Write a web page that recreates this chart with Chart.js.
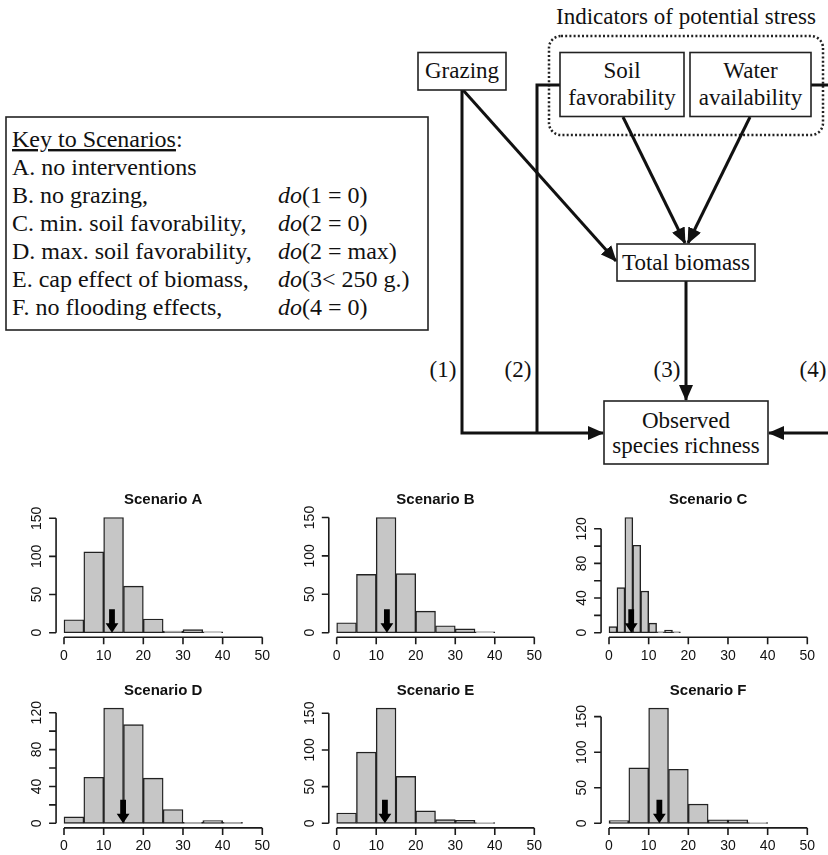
<!DOCTYPE html>
<html>
<head>
<meta charset="utf-8">
<script src="https://cdn.jsdelivr.net/npm/chart.js"></script>
<style>
  body { margin: 0; background: #fff; }
  #page { position: relative; width: 828px; height: 855px; background: #fff; overflow: hidden; }
  #page svg, #page canvas { position: absolute; }
</style>
</head>
<body>
<div id="page">
<svg width="828" height="480" style="left:0;top:0" font-family="'Liberation Serif', 'Times New Roman', serif" font-size="23" fill="#111">
  <defs>
    <marker id="ah" markerUnits="userSpaceOnUse" markerWidth="16" markerHeight="14" refX="15" refY="7" orient="auto">
      <path d="M0,0 L16,7 L0,14 z" fill="#111"/>
    </marker>
  </defs>

  <!-- key to scenarios -->
  <rect x="6" y="117" width="422" height="213" fill="none" stroke="#222" stroke-width="1.6"/>
  <g font-size="24">
    <text x="12" y="147"><tspan text-decoration="underline">Key to Scenarios</tspan>:</text>
    <text x="12" y="175">A. no interventions</text>
    <text x="12" y="203">B. no grazing,</text>
    <text x="12" y="231">C. min. soil favorability,</text>
    <text x="12" y="259">D. max. soil favorability,</text>
    <text x="12" y="287">E. cap effect of biomass,</text>
    <text x="12" y="315">F. no flooding effects,</text>
    <text x="278" y="203"><tspan font-style="italic">do</tspan>(1 = 0)</text>
    <text x="278" y="231"><tspan font-style="italic">do</tspan>(2 = 0)</text>
    <text x="278" y="259"><tspan font-style="italic">do</tspan>(2 = max)</text>
    <text x="278" y="287"><tspan font-style="italic">do</tspan>(3&lt; 250 g.)</text>
    <text x="278" y="315"><tspan font-style="italic">do</tspan>(4 = 0)</text>
  </g>

  <!-- path diagram -->
  <text x="686" y="24" text-anchor="middle">Indicators of potential stress</text>
  <rect x="549" y="36" width="274" height="99" rx="12" fill="none" stroke="#222" stroke-width="2.5" stroke-dasharray="2 2.2"/>

  <g fill="none" stroke="#111" stroke-width="3">
    <path d="M462,90 V433 H603" marker-end="url(#ah)"/>
    <path d="M560,85 H537 V433"/>
    <line x1="463" y1="90" x2="616" y2="261" marker-end="url(#ah)"/>
    <line x1="623" y1="117" x2="685" y2="243" marker-end="url(#ah)"/>
    <line x1="750" y1="117" x2="688" y2="243" marker-end="url(#ah)"/>
    <line x1="686" y1="281" x2="686" y2="400" marker-end="url(#ah)"/>
    <path d="M811,85 H830"/>
    <path d="M830,433 H769" marker-end="url(#ah)"/>
  </g>

  <g fill="#fff" stroke="#222" stroke-width="1.6">
    <rect x="418" y="52.5" width="88" height="37.5"/>
    <rect x="560" y="52.5" width="124" height="64"/>
    <rect x="690" y="52.5" width="121" height="64"/>
    <rect x="617" y="244" width="138" height="37"/>
    <rect x="604" y="401" width="164" height="63"/>
  </g>

  <g text-anchor="middle">
    <text x="462" y="78">Grazing</text>
    <text x="622" y="78">Soil</text>
    <text x="622" y="105">favorability</text>
    <text x="750.5" y="78">Water</text>
    <text x="750.5" y="105">availability</text>
    <text x="686" y="270">Total biomass</text>
    <text x="686" y="428">Observed</text>
    <text x="686" y="453">species richness</text>
    <text x="443" y="377">(1)</text>
    <text x="518" y="377">(2)</text>
    <text x="667" y="377">(3)</text>
    <text x="813" y="377">(4)</text>
  </g>
</svg>

<canvas id="hA" width="273" height="190" style="left:0px;top:486px"></canvas>
<canvas id="hB" width="273" height="190" style="left:273px;top:486px"></canvas>
<canvas id="hC" width="282" height="190" style="left:546px;top:486px"></canvas>
<canvas id="hD" width="273" height="179" style="left:0px;top:676px"></canvas>
<canvas id="hE" width="273" height="179" style="left:273px;top:676px"></canvas>
<canvas id="hF" width="282" height="179" style="left:546px;top:676px"></canvas>
</div>

<script>
// Histogram data (species richness under each scenario)
const scenarioTitles = ['Scenario A', 'Scenario B', 'Scenario C', 'Scenario D', 'Scenario E', 'Scenario F'];
const binStarts5 = [0, 5, 10, 15, 20, 25, 30, 35];
const binStartsC = [0, 2, 4, 6, 8, 10, 12, 14, 16];
const binStartsD = [0, 5, 10, 15, 20, 25, 30, 35, 40];
const countsA = [17, 106, 151, 61, 18, 2, 4, 1];
const countsB = [13, 76, 150, 77, 28, 9, 5, 1];
const countsC = [7, 52, 133, 101, 48, 11, 1, 3, 1];
const countsD = [7, 50, 125, 107, 49, 15, 1, 3, 1];
const countsE = [14, 97, 157, 64, 17, 5, 4, 1];
const countsF = [4, 78, 162, 76, 27, 5, 5, 1];
const meanRichness = [12.1, 12.7, 5.6, 14.9, 12.2, 12.7];
const xTicks = [0, 10, 20, 30, 40, 50];
const yTicks150 = [0, 50, 100, 150];
const yTicks120 = [0, 20, 40, 60, 80, 100, 120];
const yLabels120 = [0, 40, 80, 120];

// where each panel sits on the page (pixel of x=0, x=50 and y=0)
const layout = [
    { id: 'hA', left: 0,   top: 486, w: 273, h: 190, x0: 64,    x50: 262.3, y0: 632.7 },
    { id: 'hB', left: 273, top: 486, w: 273, h: 190, x0: 336.7, x50: 534.3, y0: 632.7 },
    { id: 'hC', left: 546, top: 486, w: 282, h: 190, x0: 609,   x50: 807.3, y0: 632.7 },
    { id: 'hD', left: 0,   top: 676, w: 273, h: 179, x0: 64,    x50: 262.3, y0: 823.3 },
    { id: 'hE', left: 273, top: 676, w: 273, h: 179, x0: 336.7, x50: 534.3, y0: 823.3 },
    { id: 'hF', left: 546, top: 676, w: 282, h: 179, x0: 609,   x50: 807.3, y0: 823.3 }
];
const PLOT_H = 124.4;

const panels = [
    { starts: binStarts5, width: 5, counts: countsA, yTicks: yTicks150, yLabels: yTicks150 },
    { starts: binStarts5, width: 5, counts: countsB, yTicks: yTicks150, yLabels: yTicks150 },
    { starts: binStartsC, width: 2, counts: countsC, yTicks: yTicks120, yLabels: yLabels120 },
    { starts: binStartsD, width: 5, counts: countsD, yTicks: yTicks120, yLabels: yLabels120 },
    { starts: binStarts5, width: 5, counts: countsE, yTicks: yTicks150, yLabels: yTicks150 },
    { starts: binStarts5, width: 5, counts: countsF, yTicks: yTicks150, yLabels: yTicks150 }
];

// R-style axes, title and mean arrow
const rStyle = {
    id: 'rStyle',
    afterDatasetsDraw(chart, args, o) {
        const ctx = chart.ctx;
        const a = chart.chartArea;
        const xs = chart.scales.x, ys = chart.scales.y;
        ctx.save();

        // arrow at the mean
        const ax = xs.getPixelForValue(o.mean);
        const tip = ys.getPixelForValue(0);
        ctx.fillStyle = '#000';
        ctx.beginPath();
        ctx.moveTo(ax - 2.9, tip - 23.5);
        ctx.lineTo(ax + 2.9, tip - 23.5);
        ctx.lineTo(ax + 2.9, tip - 9.5);
        ctx.lineTo(ax + 6.4, tip - 9.5);
        ctx.lineTo(ax, tip);
        ctx.lineTo(ax - 6.4, tip - 9.5);
        ctx.lineTo(ax - 2.9, tip - 9.5);
        ctx.closePath();
        ctx.fill();

        // axes
        ctx.strokeStyle = '#1a1a1a';
        ctx.lineWidth = 1.6;
        ctx.beginPath();
        ctx.moveTo(xs.getPixelForValue(xTicks[0]), a.bottom);
        ctx.lineTo(xs.getPixelForValue(xTicks[xTicks.length - 1]), a.bottom);
        xTicks.forEach(v => {
            const px = xs.getPixelForValue(v);
            ctx.moveTo(px, a.bottom);
            ctx.lineTo(px, a.bottom + 7);
        });
        ctx.moveTo(a.left, ys.getPixelForValue(o.yTicks[0]));
        ctx.lineTo(a.left, ys.getPixelForValue(o.yTicks[o.yTicks.length - 1]));
        o.yTicks.forEach(v => {
            const py = ys.getPixelForValue(v);
            ctx.moveTo(a.left, py);
            ctx.lineTo(a.left - 7, py);
        });
        ctx.stroke();

        ctx.fillStyle = '#111';
        ctx.font = '14px "Liberation Sans", Arial, sans-serif';
        ctx.textAlign = 'center';
        ctx.textBaseline = 'middle';
        xTicks.forEach(v => ctx.fillText(String(v), xs.getPixelForValue(v), a.bottom + 18.5));
        o.yLabels.forEach(v => {
            ctx.save();
            ctx.translate(a.left - 18.5, ys.getPixelForValue(v));
            ctx.rotate(-Math.PI / 2);
            ctx.fillText(String(v), 0, 0);
            ctx.restore();
        });

        // title
        ctx.font = 'bold 15px "Liberation Sans", Arial, sans-serif';
        ctx.fillText(o.title, (a.left + a.right) / 2, a.top - 13);
        ctx.restore();
    }
};

panels.forEach((p, i) => {
    const L = layout[i];
    const ppu = (L.x50 - L.x0) / 50;
    const maxCount = Math.max(...p.counts);
    const areaLeft = L.x0 - 2 * ppu;
    const areaRight = L.x50 + 2 * ppu;
    const areaBottom = L.y0 + 0.04 * PLOT_H / 1.08;
    const areaTop = areaBottom - PLOT_H;

    const data = p.starts.map((s, j) => ({ x: s + p.width / 2, y: p.counts[j] }));

    new Chart(document.getElementById(L.id), {
        type: 'bar',
        data: {
            datasets: [{
                data: data,
                backgroundColor: '#c6c6c6',
                borderColor: '#222',
                borderWidth: 1.4,
                borderSkipped: false,
                barPercentage: 1,
                categoryPercentage: 1
            }]
        },
        options: {
            responsive: false,
            animation: false,
            devicePixelRatio: 1,
            layout: {
                padding: {
                    left: areaLeft - L.left,
                    right: L.left + L.w - areaRight,
                    top: areaTop - L.top,
                    bottom: L.top + L.h - areaBottom
                }
            },
            plugins: {
                legend: { display: false },
                tooltip: { enabled: false },
                rStyle: {
                    title: scenarioTitles[i],
                    mean: meanRichness[i],
                    yTicks: p.yTicks,
                    yLabels: p.yLabels
                }
            },
            scales: {
                x: {
                    type: 'linear',
                    min: -2,
                    max: 52,
                    offset: false,
                    display: false,
                    afterBuildTicks: axis => { axis.ticks = xTicks.map(v => ({ value: v })); }
                },
                y: {
                    min: -0.04 * maxCount,
                    max: 1.04 * maxCount,
                    display: false
                }
            }
        },
        plugins: [rStyle]
    });
});
</script>
</body>
</html>
